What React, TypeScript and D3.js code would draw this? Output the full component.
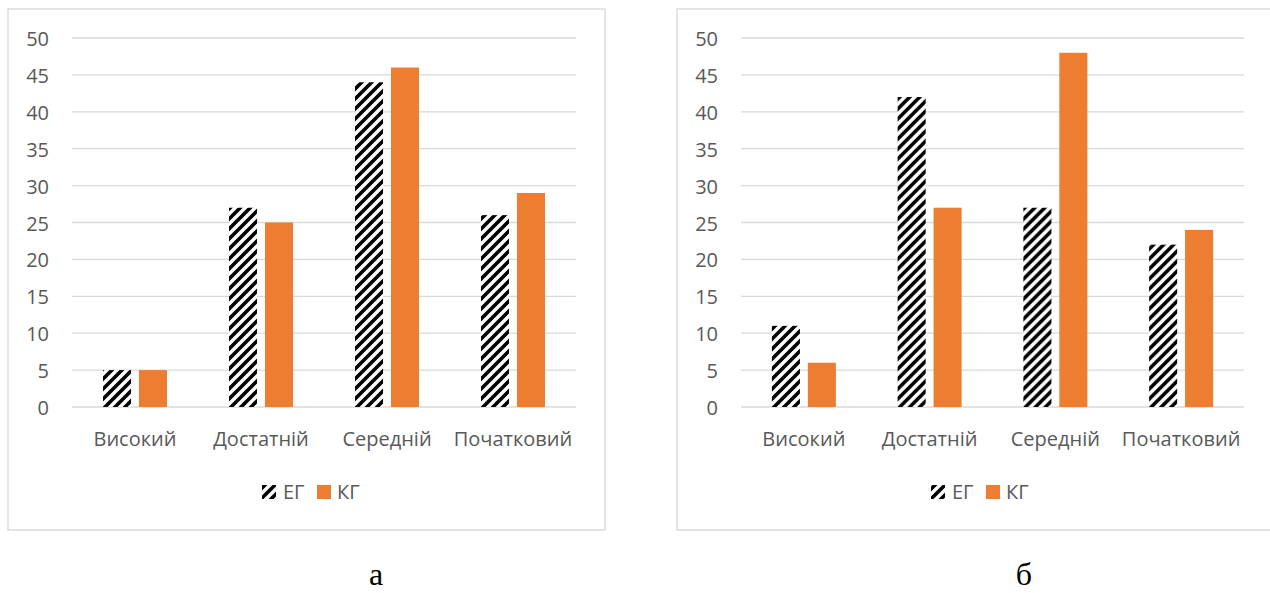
import * as d3 from "d3";

const categories = ["Високий", "Достатній", "Середній", "Початковий"];
const seriesNames = ["ЕГ", "КГ"];

// panel "а"
const egA = [5, 27, 44, 26];
const kgA = [5, 25, 46, 29];
// panel "б"
const egB = [11, 42, 27, 22];
const kgB = [6, 27, 48, 24];

const yTicks = [0, 5, 10, 15, 20, 25, 30, 35, 40, 45, 50];

const ORANGE = "#ED7D31";
const GRID = "#d9d9d9";
const TEXT = "#595959";
const FONT = "'Open Sans', sans-serif";

function Panel(props: {
  boxX: number;
  boxW: number;
  plotLeft: number;
  plotRight: number;
  eg: number[];
  kg: number[];
  caption: string;
  captionX: number;
}) {
  const { boxX, boxW, plotLeft, plotRight, eg, kg, caption, captionX } = props;

  const y = d3.scaleLinear().domain([0, 50]).range([407, 38]);
  const x0 = d3.scaleBand().domain(categories).range([plotLeft, plotRight]);
  const bw = x0.bandwidth();
  const x1 = d3
    .scaleBand()
    .domain(seriesNames)
    .range([bw / 2 - 32, bw / 2 + 32])
    .paddingInner(0.22);

  const rows = categories.map((c, i) => ({ cat: c, values: [eg[i], kg[i]] }));
  const legendX = plotLeft + 190;

  return (
    <g>
      <rect x={boxX} y={9} width={boxW} height={521} fill="white" stroke={GRID} strokeWidth={1.4} />
      {yTicks.map((t) => (
        <g key={t}>
          <line x1={plotLeft} x2={plotRight} y1={y(t)} y2={y(t)} stroke={GRID} strokeWidth={1.3} />
          <text
            x={plotLeft - 23}
            y={y(t) + 8}
            textAnchor="end"
            fontSize={20}
            fill={TEXT}
            fontFamily={FONT}
          >
            {t}
          </text>
        </g>
      ))}
      {rows.map((r) => (
        <g key={r.cat} transform={`translate(${x0(r.cat)},0)`}>
          {r.values.map((v, j) => (
            <rect
              key={j}
              x={x1(seriesNames[j])}
              y={y(v)}
              width={x1.bandwidth()}
              height={y(0) - y(v)}
              fill={j === 0 ? "url(#hatch)" : ORANGE}
            />
          ))}
          <text
            x={bw / 2}
            y={446}
            textAnchor="middle"
            fontSize={20}
            fill={TEXT}
            fontFamily={FONT}
          >
            {r.cat}
          </text>
        </g>
      ))}
      <g>
        <rect x={legendX} y={485} width={14} height={14} fill="url(#hatch)" />
        <text x={legendX + 21} y={499} fontSize={20} fill={TEXT} fontFamily={FONT}>
          {seriesNames[0]}
        </text>
        <rect x={legendX + 55} y={485} width={14} height={14} fill={ORANGE} />
        <text x={legendX + 75} y={499} fontSize={20} fill={TEXT} fontFamily={FONT}>
          {seriesNames[1]}
        </text>
      </g>
      <text
        x={captionX}
        y={585}
        textAnchor="middle"
        fontSize={32}
        fill="#000"
        fontFamily="'Liberation Serif', 'Times New Roman', serif"
      >
        {caption}
      </text>
    </g>
  );
}

export default function App() {
  return (
    <svg
      width={1270}
      height={593}
      style={{ position: "absolute", left: 0, top: 0, background: "white" }}
    >
      <defs>
        <pattern id="hatch" patternUnits="userSpaceOnUse" width={10} height={10}>
          <rect width={10} height={10} fill="white" />
          <path d="M-3,3 L3,-3 M0,10 L10,0 M7,13 L13,7" stroke="black" strokeWidth={3.6} />
        </pattern>
      </defs>
      <rect x={0} y={0} width={1270} height={593} fill="white" />
      <Panel
        boxX={8}
        boxW={597}
        plotLeft={72}
        plotRight={576}
        eg={egA}
        kg={kgA}
        caption="а"
        captionX={376}
      />
      <Panel
        boxX={677}
        boxW={610}
        plotLeft={741}
        plotRight={1244}
        eg={egB}
        kg={kgB}
        caption="б"
        captionX={1024}
      />
    </svg>
  );
}
